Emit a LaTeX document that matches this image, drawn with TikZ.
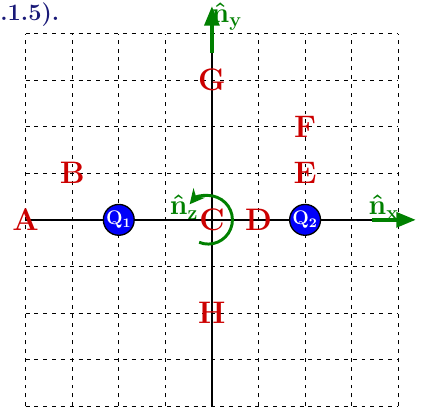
\documentclass[tikz,border=0pt]{standalone}
\usetikzlibrary{arrows.meta}

\definecolor{ptred}{RGB}{204,0,0}
\definecolor{axgreen}{RGB}{0,128,0}
\definecolor{chblue}{RGB}{0,0,250}
\definecolor{ttlblue}{RGB}{25,25,120}

\tikzset{
  pt/.style={text=ptred, font=\fontsize{19}{19}\selectfont\bfseries, inner sep=0pt},
  charge/.style={circle, draw=black, thick, fill=chblue, minimum size=0.58cm,
    inner sep=0pt, text=white, font=\large\bfseries\boldmath},
  unitvec/.style={axgreen, line width=2.4pt, -{Triangle[length=12pt,width=9pt]}},
  veclbl/.style={text=axgreen, font=\LARGE\bfseries\boldmath, inner sep=0pt},
  gridline/.style={dash pattern=on 2.4pt off 3pt, line width=0.6pt}
}

\begin{document}
\begin{tikzpicture}

\useasboundingbox (-4.55,-4.08) rectangle (4.51,4.72);

\begin{scope}[shift={(0,0)}]
        \coordinate (O) at (0,0);
        \coordinate (R) at (-0.08,0);
        \coordinate (XL) at (-4,0);
        \coordinate (XR) at (3.43,0);
        \coordinate (XE) at (4.38,0);
        \coordinate (YB) at (0,-4);
        \coordinate (YT) at (0,3.58);
        \coordinate (YE) at (0,4.59);

        % Siatka
        \draw[gridline] (-4,-4) grid (4,4);

        % Osie
        \draw[line width=1pt] (XL) -- (XR);
        \draw[line width=1pt] (YB) -- (YT);
        \draw[unitvec] (XR) -- (XE);
        \draw[unitvec] (YT) -- (YE);
        \draw[axgreen, line width=1.8pt, -{Stealth[length=9pt,width=9pt]}]
            (R) ++(-112:0.52) arc[start angle=-112, end angle=140, radius=0.52];

        \node[veclbl] (nx) at (3.69,0.27) {$\hat{\mathrm{n}}_{\mathrm{x}}$};
        \node[veclbl] (ny) at (0.32,4.36) {$\hat{\mathrm{n}}_{\mathrm{y}}$};
        \node[veclbl] (nz) at (-0.6,0.27) {$\hat{\mathrm{n}}_{\mathrm{z}}$};

        % Ładunki
        \node[charge] (Q1) at (-2,0) {Q$_{\mathrm{1}}$};
        \node[charge] (Q2) at (2,0) {Q$_{\mathrm{2}}$};

        % Punkty
        \node[pt] (A) at (-4,0) {A};
        \node[pt] (B) at (-3,1) {B};
        \node[pt] (C) at (0,0) {C};
        \node[pt] (D) at (1,0) {D};
        \node[pt] (E) at (2,1) {E};
        \node[pt] (F) at (2,2) {F};
        \node[pt] (G) at (0,3) {G};
        \node[pt] (H) at (0,-2) {H};

        \node[anchor=base west, text=ttlblue, font=\Large\bfseries, inner sep=0pt]
            (ttl) at (-4.55,4.29) {.1.5).};
\end{scope}

\end{tikzpicture}
\end{document}
